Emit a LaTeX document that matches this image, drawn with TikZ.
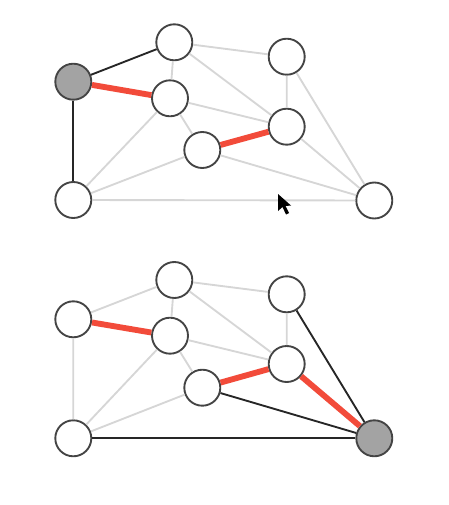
\documentclass[tikz,border=0pt]{standalone}
\usepackage{tikz}
\usetikzlibrary{positioning}
\definecolor{pathred}{HTML}{F24B3A}
\definecolor{edgegray}{HTML}{D6D6D6}
\definecolor{rootgray}{HTML}{A3A3A3}
\definecolor{rimgray}{HTML}{444444}

\begin{document}
\begin{tikzpicture}[
    x=0.03cm, y=-0.03cm,
    vertex/.style={circle, draw=rimgray, fill=white, line width=1.6pt,
                   minimum size=1.08cm, inner sep=0pt},
    root/.style={vertex, fill=rootgray},
    lightedge/.style={draw=edgegray, line width=1.6pt},
    treeedge/.style={draw=black!85, line width=1.6pt},
    hotedge/.style={draw=pathred, line width=5pt}
]
\useasboundingbox (0,0) rectangle (448,505);

%% ---- Graf atas ----
\node[root]   (a1) at ( 73.3,  81.7) {};
\node[vertex] (b1) at (174.3,  42.3) {};
\node[vertex] (c1) at (170.0,  98.3) {};
\node[vertex] (d1) at (286.7,  56.7) {};
\node[vertex] (e1) at (286.7, 126.7) {};
\node[vertex] (f1) at (202.3, 150.0) {};
\node[vertex] (g1) at ( 73.3, 200.0) {};
\node[vertex] (h1) at (374.3, 200.5) {};

\path[lightedge] (b1)--(d1) (b1)--(c1) (b1)--(e1) (c1)--(e1) (c1)--(f1)
                 (c1)--(g1) (f1)--(g1) (g1)--(h1) (d1)--(e1) (d1)--(h1)
                 (e1)--(h1) (f1)--(h1);
\draw[treeedge] (a1)--(b1);
\draw[treeedge] (a1)--(g1);
\draw[hotedge]  (a1)--(c1);
\draw[hotedge]  (f1)--(e1);

%% ---- Graf bawah ----
\node[vertex] (a2) at ( 73.3, 319.3) {};
\node[vertex] (b2) at (174.3, 280.0) {};
\node[vertex] (c2) at (170.0, 335.7) {};
\node[vertex] (d2) at (286.7, 294.3) {};
\node[vertex] (e2) at (286.7, 364.0) {};
\node[vertex] (f2) at (202.3, 387.7) {};
\node[vertex] (g2) at ( 73.3, 438.3) {};
\node[root]   (h2) at (374.3, 438.3) {};

\path[lightedge] (a2)--(b2) (a2)--(g2) (b2)--(d2) (b2)--(c2) (b2)--(e2)
                 (c2)--(e2) (c2)--(f2) (c2)--(g2) (f2)--(g2) (d2)--(e2);
\draw[treeedge] (d2)--(h2);
\draw[treeedge] (f2)--(h2);
\draw[treeedge] (g2)--(h2);
\draw[hotedge]  (a2)--(c2);
\draw[hotedge]  (f2)--(e2);
\draw[hotedge]  (e2)--(h2);

%% ---- Kursor ----
\fill[black] (278,194) -- (278,211) -- (282.5,207) -- (286,214.5) -- (289,213)
             -- (285.5,206) -- (291,205.5) -- cycle;

\end{tikzpicture}
\end{document}
